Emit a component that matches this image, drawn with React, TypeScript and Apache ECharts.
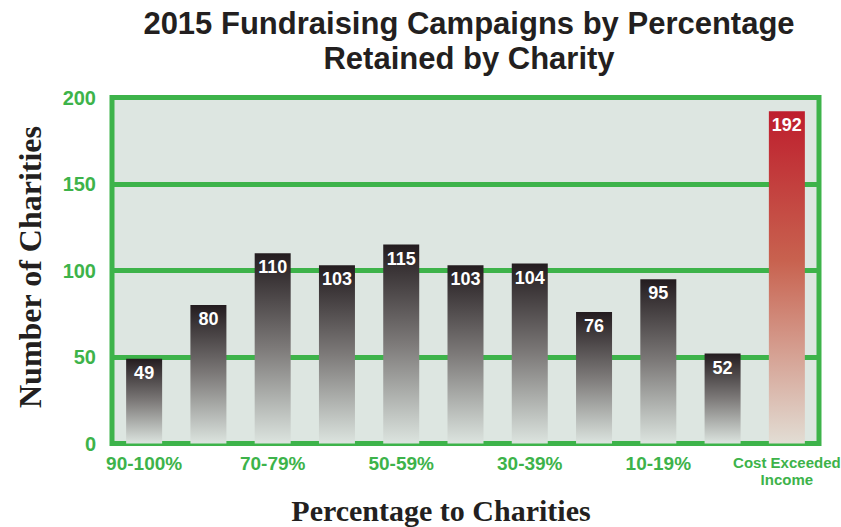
import React, { useEffect, useRef } from "react";
import * as echarts from "echarts";

const categories = ["90-100%", "80-89%", "70-79%", "60-69%", "50-59%", "40-49%", "30-39%", "20-29%", "10-19%", "0-9%", "Cost Exceeded Income"];
const values = [49, 80, 110, 103, 115, 103, 104, 76, 95, 52, 192];
const yTicks = [0, 50, 100, 150, 200];

const GREEN = "#3db34a";

export default function App() {
  const ref = useRef<HTMLDivElement>(null);
  useEffect(() => {
    if (!ref.current) return;
    const chart = echarts.init(ref.current, undefined, { renderer: "svg" });
    const darkGrad = new echarts.graphic.LinearGradient(0, 0, 0, 1, [
      { offset: 0, color: "#231c1f" },
      { offset: 0.5, color: "#7d7a79" },
      { offset: 1, color: "#dce4df" },
    ]);
    const redGrad = new echarts.graphic.LinearGradient(0, 0, 0, 1, [
      { offset: 0, color: "#be1e2d" },
      { offset: 0.45, color: "#c8624f" },
      { offset: 1, color: "#e2ddd4" },
    ]);
    chart.setOption({
      animation: false,
      title: [
        {
          text: "2015 Fundraising Campaigns by Percentage\nRetained by Charity",
          left: 464,
          top: 1,
          textAlign: "center",
          textStyle: { fontFamily: "Liberation Sans, Arial, sans-serif", fontWeight: "bold", fontSize: 31, lineHeight: 35, color: "#231f20" },
        },
      ],
      graphic: [
        {
          type: "text",
          x: 30,
          y: 267,
          rotation: Math.PI / 2,
          style: { text: "Number of Charities", fontFamily: "Liberation Serif, Times New Roman, serif", fontWeight: "bold", fontSize: 32, fill: "#231f20", align: "center", verticalAlign: "middle" },
        },
        {
          type: "text",
          x: 441,
          y: 510,
          style: { text: "Percentage to Charities", fontFamily: "Liberation Serif, Times New Roman, serif", fontWeight: "bold", fontSize: 30, fill: "#231f20", align: "center", verticalAlign: "middle" },
        },
      ],
      grid: {
        show: true,
        left: 112,
        top: 97.5,
        width: 707,
        height: 346,
        outerBoundsMode: "none",
        containLabel: false,
        backgroundColor: "#dde6e1",
        borderColor: GREEN,
        borderWidth: 5,
      },
      xAxis: {
        type: "category",
        data: categories,
        axisLine: { show: false },
        axisTick: { show: false },
        axisLabel: {
          interval: 1,
          margin: 10,
          color: GREEN,
          fontFamily: "Liberation Sans, Arial, sans-serif",
          fontWeight: "bold",
          fontSize: 19,
          formatter: (v: string) => (v === "Cost Exceeded Income" ? "{s|Cost Exceeded}\n{s|Income}" : v),
          rich: { s: { fontSize: 15, lineHeight: 17, color: GREEN, fontWeight: "bold", fontFamily: "Liberation Sans, Arial, sans-serif" } },
        },
      },
      yAxis: {
        type: "value",
        min: 0,
        max: 200,
        interval: 50,
        axisLine: { show: false },
        axisTick: { show: false },
        axisLabel: {
          margin: 16,
          color: GREEN,
          fontFamily: "Liberation Sans, Arial, sans-serif",
          fontWeight: "bold",
          fontSize: 20,
          lineHeight: 20,
          padding: [0, 0, 6, 0],
          formatter: (v: number) => (yTicks.includes(v) ? String(v) : ""),
        },
        splitLine: { show: true, lineStyle: { color: GREEN, width: 5 } },
      },
      series: [
        {
          type: "bar",
          barWidth: 36,
          data: values.map((v, i) => ({
            value: v,
            itemStyle: { color: i === values.length - 1 ? redGrad : darkGrad },
          })),
          label: {
            show: true,
            position: "insideTop",
            distance: 5,
            color: "#ffffff",
            fontFamily: "Liberation Sans, Arial, sans-serif",
            fontWeight: "bold",
            fontSize: 18,
          },
        },
      ],
    });
    return () => chart.dispose();
  }, []);
  return <div ref={ref} style={{ width: 841, height: 527, position: "absolute", left: 0, top: 0 }} />;
}
